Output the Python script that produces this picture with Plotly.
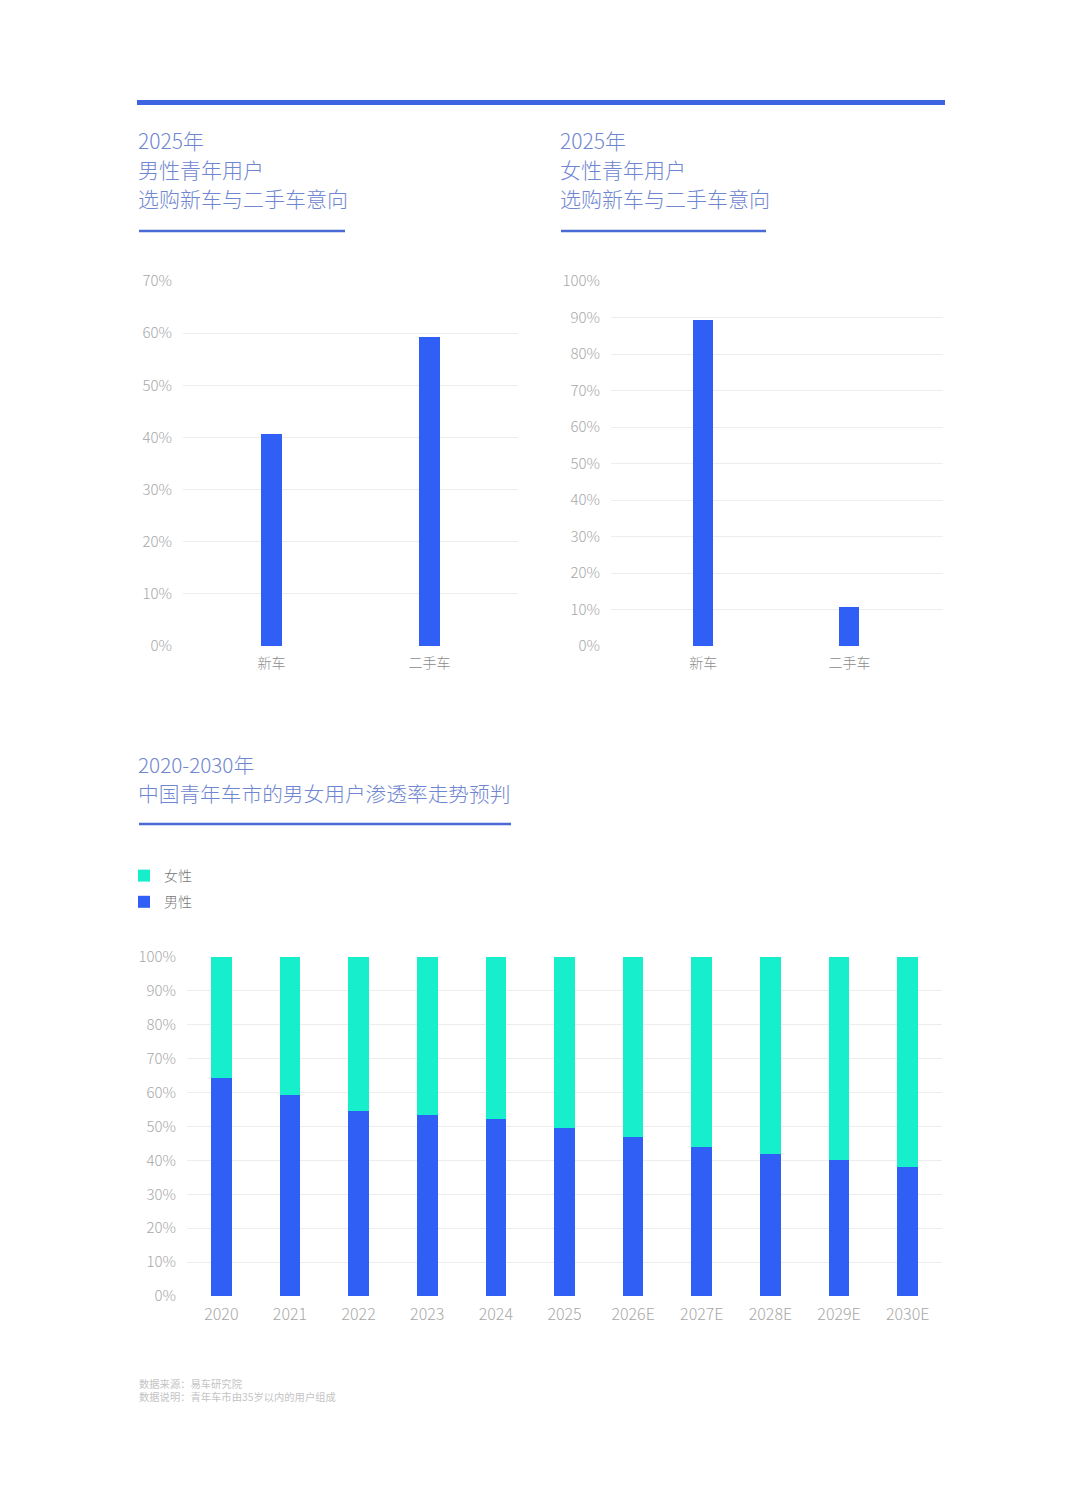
import plotly.graph_objects as go

W, H = 1080, 1502

# ---- data ----
cats_top = ["新车", "二手车"]
male_2025 = [40.7, 59.3]
female_2025 = [89.4, 10.6]

years = ["2020", "2021", "2022", "2023", "2024", "2025", "2026E", "2027E", "2028E", "2029E", "2030E"]
male_share = [64.2, 59.3, 54.6, 53.5, 52.2, 49.5, 46.9, 43.9, 41.9, 40.0, 38.0]
female_share = [round(100 - v, 1) for v in male_share]

BLUE = "#2f5ff5"
TEAL = "#17efcc"
TITLE_C = "#6f86d0"
LINE_C = "#4a6ad6"
TICK_C = "#a8a8a8"
GRID_C = "#ededed"
FONT = "Noto Sans CJK SC"


def px_x(p):
    return p / W


def px_y(p):
    return 1 - p / H


fig = go.Figure()

fig.add_trace(go.Bar(x=cats_top, y=male_2025, marker_color=BLUE, width=0.135,
                     showlegend=False, xaxis="x", yaxis="y", hoverinfo="x+y"))
fig.add_trace(go.Bar(x=cats_top, y=female_2025, marker_color=BLUE, width=0.137,
                     showlegend=False, xaxis="x2", yaxis="y2", hoverinfo="x+y"))
fig.add_trace(go.Bar(x=years, y=male_share, name="男性", marker_color=BLUE, width=0.3,
                     xaxis="x3", yaxis="y3", legendrank=2, legendgroup="m"))
fig.add_trace(go.Bar(x=years, y=female_share, name="女性", marker_color=TEAL, width=0.3,
                     xaxis="x3", yaxis="y3", legendrank=1, legendgroup="f"))

yax_common = dict(showgrid=True, gridcolor=GRID_C, gridwidth=1, zeroline=False,
                  ticksuffix="%", tickfont=dict(size=15, color=TICK_C, family=FONT, weight=300),
                  showline=False, ticks="", ticklabelstandoff=10, fixedrange=True,
                  automargin=False)
xax_common = dict(type="category", showgrid=False, zeroline=False, ticks="",
                  ticklabelstandoff=7, automargin=False, fixedrange=True)

fig.update_layout(
    template="none",
    width=W, height=H,
    margin=dict(l=0, r=0, t=0, b=0, autoexpand=False),
    paper_bgcolor="white", plot_bgcolor="white",
    barmode="stack",
    font=dict(family=FONT),
    xaxis=dict(domain=[px_x(183), px_x(518)], anchor="y", range=[-0.56, 1.56],
               tickfont=dict(size=14, color="#8c8c8c", family=FONT, weight=300), **xax_common),
    yaxis=dict(domain=[px_y(646), px_y(281)], anchor="x", range=[0, 70], dtick=10, **yax_common),
    xaxis2=dict(domain=[px_x(611), px_x(943)], anchor="y2", range=[-0.63, 1.64],
                tickfont=dict(size=14, color="#8c8c8c", family=FONT, weight=300), **xax_common),
    yaxis2=dict(domain=[px_y(646), px_y(281)], anchor="x2", range=[0, 100], dtick=10, **yax_common),
    xaxis3=dict(domain=[px_x(187), px_x(942)], anchor="y3", range=[-0.5, 10.5],
                tickfont=dict(size=16, color=TICK_C, family=FONT, weight=300), **xax_common),
    yaxis3=dict(domain=[px_y(1296), px_y(957)], anchor="x3", range=[0, 100], dtick=10, **yax_common),
    legend=dict(x=px_x(124), y=px_y(860), xanchor="left", yanchor="top",
                font=dict(size=14, color="#777", family=FONT, weight=300), traceorder="grouped",
                tracegroupgap=5, itemwidth=30, bgcolor="rgba(0,0,0,0)", borderwidth=0),
)

# header line
fig.add_shape(type="line", xref="paper", yref="paper", x0=px_x(137), x1=px_x(945),
              y0=px_y(102.5), y1=px_y(102.5), line=dict(color="#3d63e3", width=5))

# titles
def title_block(x, ys, lines, size):
    for yy, t in zip(ys, lines):
        fig.add_annotation(x=px_x(x), y=px_y(yy), xref="paper", yref="paper", text=t,
                           showarrow=False, xanchor="left", yanchor="middle", borderpad=0,
                           font=dict(size=size, color=TITLE_C, family=FONT, weight=300))

title_block(137, [140, 169, 198], ["2025年", "男性青年用户", "选购新车与二手车意向"], 21)
title_block(559, [140, 169, 198], ["2025年", "女性青年用户", "选购新车与二手车意向"], 21)
title_block(137, [764, 793], ["2020-2030年", "中国青年车市的男女用户渗透率走势预判"], 20.7)

for x0, x1, yy in [(139, 345, 231), (561, 766, 231), (139, 511, 824)]:
    fig.add_shape(type="line", xref="paper", yref="paper", x0=px_x(x0), x1=px_x(x1),
                  y0=px_y(yy), y1=px_y(yy), line=dict(color=LINE_C, width=2.5))

# footnotes
fig.add_annotation(x=px_x(137), y=px_y(1374), xref="paper", yref="paper",
                   text="数据来源：易车研究院<br>数据说明：青年车市由35岁以内的用户组成",
                   align="left", showarrow=False, xanchor="left", yanchor="top",
                   font=dict(size=10.3, color="#c4c4c4", family=FONT))

fig.write_html("out.html", config={"displayModeBar": False},
               post_script="document.body.style.margin='0';")
